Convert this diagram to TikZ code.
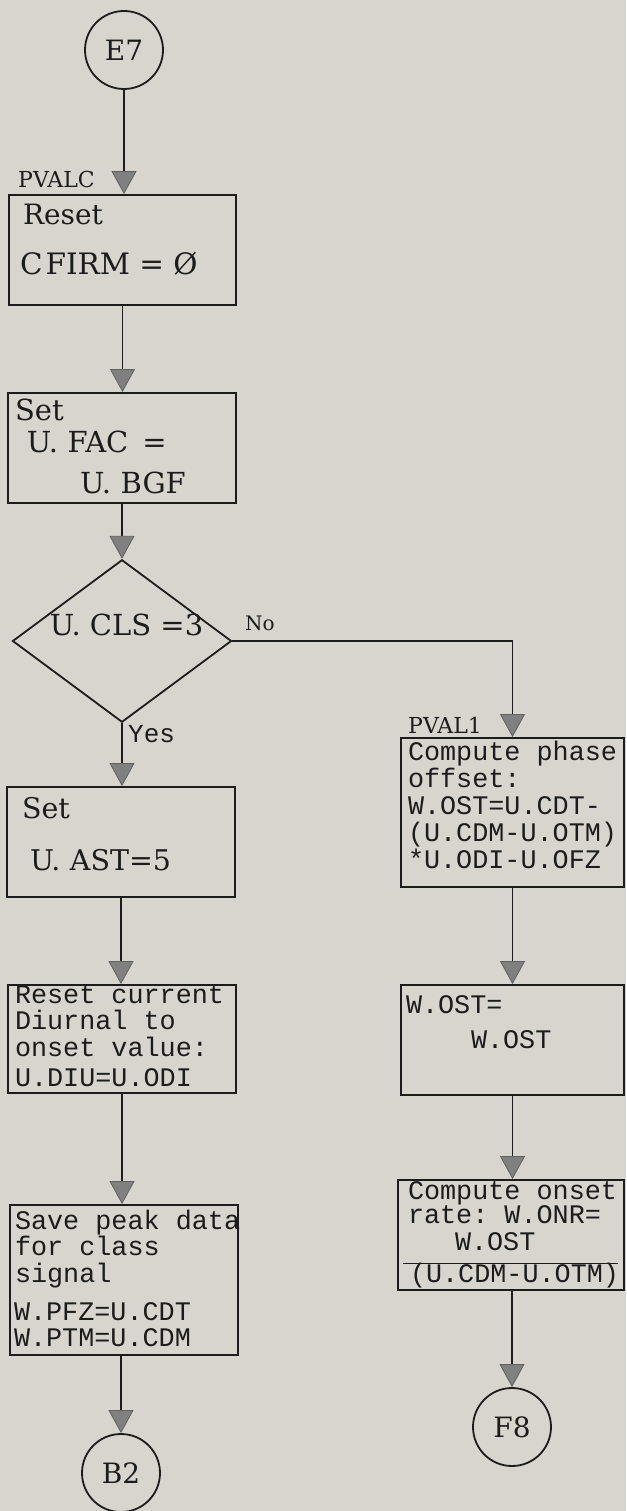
\documentclass[tikz,border=0pt]{standalone}
\usepackage{fontspec}
\setmainfont{DejaVu Serif}
\newfontfamily\monof{Liberation Mono}
\usetikzlibrary{arrows.meta,shapes.geometric}
\definecolor{paper}{RGB}{215,213,205}
\definecolor{ink}{RGB}{28,28,28}
\newcommand{\mymono}[2]{\monof\fontsize{#1}{#2}\selectfont}
\newcommand{\mss}{\spaceskip=0.6em\xspaceskip=0.6em\relax}
\begin{document}
\begin{tikzpicture}[x=1pt,y=-1pt,
  line/.style={draw=ink, line width=1.8pt},
  arr/.style={line, -{Triangle[width=25pt,length=23pt,fill=black!50,color=black!62,line width=0.8pt]}},
  pbox/.style={draw=ink, line width=1.8pt, inner ysep=0pt, align=left, text=ink},
  serifbox/.style={pbox, font=\fontsize{29pt}{32pt}\selectfont},
  monobox/.style={pbox, font=\mymono{26.8pt}{26.5pt}},
  circ/.style={circle, draw=ink, line width=1.8pt, minimum size=78pt, inner sep=0pt, text=ink, font=\fontsize{28pt}{30pt}\selectfont},
  decision/.style={diamond, draw=ink, line width=1.8pt, minimum width=219pt, minimum height=146pt, inner sep=0pt, text=ink, font=\fontsize{29pt}{32pt}\selectfont},
  lab/.style={inner sep=0pt, anchor=base west, text=ink}
]
\fill[paper] (0,0) rectangle (626,1511);
\useasboundingbox (0,0) rectangle (626,1511);

% left column
\node[circ] (e7) at (124,50) {E7};
\node[lab, font=\fontsize{22pt}{24pt}\selectfont] (pvalc) at (18,188) {PVALC};
\node[pbox, font=\fontsize{28pt}{50pt}\selectfont, text width=205pt, inner xsep=11pt, text height=30pt, text depth=80pt] (b1) at (122.5,250)
  {\hspace*{3pt}Reset\\{\fontsize{29.5pt}{50pt}\selectfont C\hspace{3pt}FIRM = Ø}};
\node[serifbox, text width=214pt, inner xsep=7pt, text height=27pt, text depth=83pt] (b2) at (122,448)
  {Set\\\hspace*{12pt}U. FAC\hspace{14pt}=\\[9pt]\hspace*{65pt}U. BGF};
\node[decision] (dia) at (122,641) {\raisebox{6pt}[0pt][0pt]{\hspace*{9pt}U. CLS =3}};
\node[lab, font=\fontsize{20pt}{22pt}\selectfont] (no) at (245,630) {No};
\node[lab, font=\mymono{26pt}{28pt}] (yes) at (128,742) {Yes};
\node[pbox, font=\fontsize{28.5pt}{52pt}\selectfont, text width=198pt, inner xsep=15pt, text height=31pt, text depth=79pt] (l3) at (121,842)
  {Set\\\hspace*{8pt}U. AST=5};
\node[monobox, text width=214pt, inner xsep=7pt, text height=18pt, text depth=90pt] (l4) at (122,1039)
  {\mss\mbox{Reset current}\\\mbox{Diurnal to}\\\mbox{onset value:}\\[3.5pt]\mbox{U.DIU=U.ODI}};
\node[monobox, text width=220pt, inner xsep=4pt, text height=24pt, text depth=126pt] (l5) at (124,1280)
  {\mss\hspace*{1pt}\mbox{Save peak data}\\\hspace*{1pt}\mbox{for class}\\\hspace*{1pt}signal\\[11.5pt]\mbox{W.PFZ=U.CDT}\\\mbox{W.PTM=U.CDM}};
\node[circ] (b2c) at (121,1473) {B2};

% right column
\node[lab, font=\fontsize{22pt}{24pt}\selectfont] (pval1) at (408,733) {PVAL1};
\node[pbox, font=\mymono{26.8pt}{27pt}, text width=209pt, inner xsep=7pt, text height=22pt, text depth=127pt] (r1) at (512.5,812.5)
  {\mss\mbox{Compute phase}\\offset:\\\mbox{W.OST=U.CDT-}\\\mbox{(U.CDM-U.OTM)}\\\mbox{*U.ODI-U.OFZ}};
\node[pbox, font=\mymono{26.8pt}{35pt}, text width=213pt, inner xsep=5pt, text height=28pt, text depth=82pt] (r2) at (512.5,1040)
  {W.OST=\\\hspace*{65pt}W.OST};
\node[pbox, font=\mymono{26.8pt}{26pt}, text width=206pt, inner xsep=10pt, text height=19pt, text depth=91pt] (r3) at (511,1235)
  {\mss\mbox{Compute onset}\\[-2pt]\mbox{rate: W.ONR=}\\[1pt]\hspace*{47pt}W.OST\\[-12pt]\hspace*{-5pt}\rule{215pt}{1.5pt}\\[-8pt]\hspace*{2pt}\mbox{(U.CDM-U.OTM)}};
\node[circ] (f8) at (512,1427) {F8};

% connectors
\draw[arr] (e7.south) -- (e7.south |- b1.north);
\draw[arr] (b1.south) -- (b1.south |- b2.north);
\draw[arr] (b2.south) -- (b2.south |- dia.north);
\draw[arr] (dia.south) -- (dia.south |- l3.north);
\draw[arr] (dia.east) -| (r1.north);
\draw[arr] (l3.south) -- (l3.south |- l4.north);
\draw[arr] (l4.south) -- (l4.south |- l5.north);
\draw[arr] (b2c.north |- l5.south) -- (b2c.north);
\draw[arr] (r1.south) -- (r1.south |- r2.north);
\draw[arr] (r2.south) -- (r2.south |- r3.north);
\draw[arr] (f8.north |- r3.south) -- (f8.north);
\end{tikzpicture}
\end{document}
